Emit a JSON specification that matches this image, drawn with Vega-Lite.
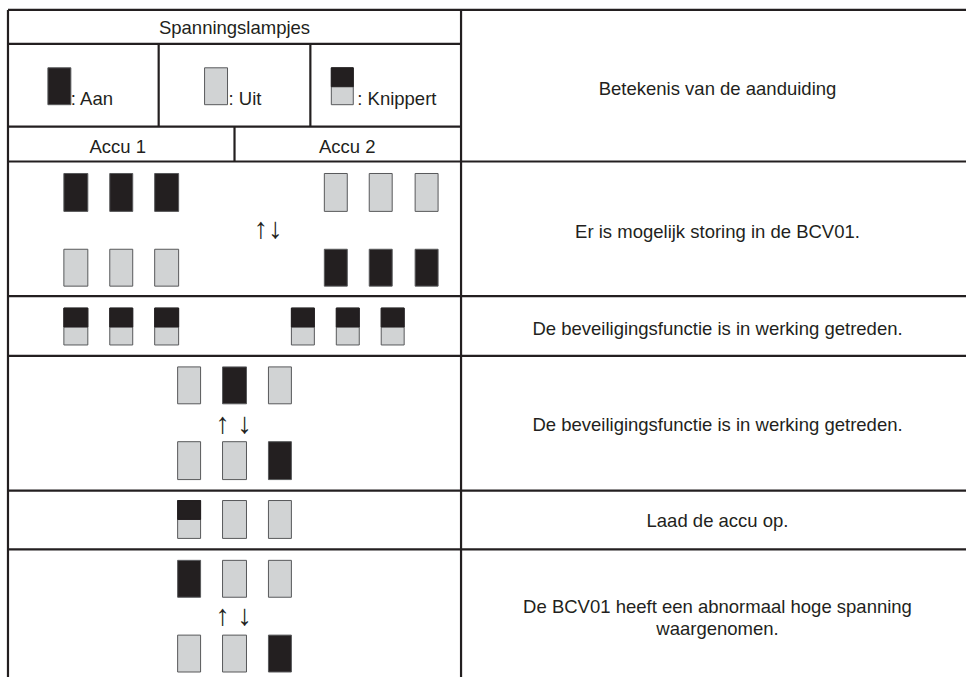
{
  "$schema": "https://vega.github.io/schema/vega-lite/v6.json",
  "width": 968,
  "height": 679,
  "autosize": {"type": "fit", "contains": "padding"},
  "padding": 0,
  "background": "white",
  "config": {"view": {"stroke": null}},
  "datasets": {
    "lamps": [
      {"x0": 48, "x1": 71, "y0": 68, "y1": 105, "ym": 86.5, "state": "on"},
      {"x0": 205, "x1": 228, "y0": 68, "y1": 105, "ym": 86.5, "state": "off"},
      {"x0": 332, "x1": 354, "y0": 68, "y1": 105, "ym": 87, "state": "blink"},
      {"x0": 64, "x1": 88, "y0": 174, "y1": 212, "ym": 193, "state": "on"},
      {"x0": 110, "x1": 133, "y0": 174, "y1": 212, "ym": 193, "state": "on"},
      {"x0": 155, "x1": 179, "y0": 174, "y1": 212, "ym": 193, "state": "on"},
      {"x0": 325, "x1": 348, "y0": 174, "y1": 212, "ym": 193, "state": "off"},
      {"x0": 370, "x1": 393, "y0": 174, "y1": 212, "ym": 193, "state": "off"},
      {"x0": 416, "x1": 439, "y0": 174, "y1": 212, "ym": 193, "state": "off"},
      {"x0": 64, "x1": 88, "y0": 250, "y1": 287, "ym": 268, "state": "off"},
      {"x0": 110, "x1": 133, "y0": 250, "y1": 287, "ym": 268, "state": "off"},
      {"x0": 155, "x1": 179, "y0": 250, "y1": 287, "ym": 268, "state": "off"},
      {"x0": 325, "x1": 348, "y0": 250, "y1": 287, "ym": 268, "state": "on"},
      {"x0": 370, "x1": 393, "y0": 250, "y1": 287, "ym": 268, "state": "on"},
      {"x0": 416, "x1": 439, "y0": 250, "y1": 287, "ym": 268, "state": "on"},
      {"x0": 64, "x1": 88, "y0": 309, "y1": 346, "ym": 328, "state": "blink"},
      {"x0": 110, "x1": 133, "y0": 309, "y1": 346, "ym": 328, "state": "blink"},
      {"x0": 155, "x1": 179, "y0": 309, "y1": 346, "ym": 328, "state": "blink"},
      {"x0": 292, "x1": 315, "y0": 309, "y1": 346, "ym": 328, "state": "blink"},
      {"x0": 337, "x1": 360, "y0": 309, "y1": 346, "ym": 328, "state": "blink"},
      {"x0": 382, "x1": 405, "y0": 309, "y1": 346, "ym": 328, "state": "blink"},
      {"x0": 178, "x1": 201, "y0": 368, "y1": 405, "ym": 386, "state": "off"},
      {"x0": 223, "x1": 247, "y0": 368, "y1": 405, "ym": 386, "state": "on"},
      {"x0": 269, "x1": 292, "y0": 368, "y1": 405, "ym": 386, "state": "off"},
      {"x0": 178, "x1": 201, "y0": 443, "y1": 481, "ym": 462, "state": "off"},
      {"x0": 223, "x1": 247, "y0": 443, "y1": 481, "ym": 462, "state": "off"},
      {"x0": 269, "x1": 292, "y0": 443, "y1": 481, "ym": 462, "state": "on"},
      {"x0": 178, "x1": 201, "y0": 502, "y1": 540, "ym": 521, "state": "blink"},
      {"x0": 223, "x1": 247, "y0": 502, "y1": 540, "ym": 521, "state": "off"},
      {"x0": 269, "x1": 292, "y0": 502, "y1": 540, "ym": 521, "state": "off"},
      {"x0": 178, "x1": 201, "y0": 562, "y1": 599, "ym": 580, "state": "on"},
      {"x0": 223, "x1": 247, "y0": 562, "y1": 599, "ym": 580, "state": "off"},
      {"x0": 269, "x1": 292, "y0": 562, "y1": 599, "ym": 580, "state": "off"},
      {"x0": 178, "x1": 201, "y0": 637, "y1": 674, "ym": 655, "state": "off"},
      {"x0": 223, "x1": 247, "y0": 637, "y1": 674, "ym": 655, "state": "off"},
      {"x0": 269, "x1": 292, "y0": 637, "y1": 674, "ym": 655, "state": "on"}
    ],
    "lines": [
      {"x0": 8, "x1": 968, "y0": 10, "y1": 10},
      {"x0": 8, "x1": 8, "y0": 10, "y1": 679},
      {"x0": 462, "x1": 462, "y0": 10, "y1": 679},
      {"x0": 8, "x1": 462, "y0": 44, "y1": 44},
      {"x0": 8, "x1": 462, "y0": 127, "y1": 127},
      {"x0": 8, "x1": 968, "y0": 162, "y1": 162},
      {"x0": 8, "x1": 968, "y0": 297, "y1": 297},
      {"x0": 8, "x1": 968, "y0": 357, "y1": 357},
      {"x0": 8, "x1": 968, "y0": 492, "y1": 492},
      {"x0": 8, "x1": 968, "y0": 551, "y1": 551},
      {"x0": 159, "x1": 159, "y0": 44, "y1": 127},
      {"x0": 311, "x1": 311, "y0": 44, "y1": 127},
      {"x0": 235, "x1": 235, "y0": 127, "y1": 162}
    ],
    "ctext": [
      {"x": 235, "y": 34, "t": "Spanningslampjes"},
      {"x": 118, "y": 153, "t": "Accu 1"},
      {"x": 348, "y": 153, "t": "Accu 2"},
      {"x": 719, "y": 95, "t": "Betekenis van de aanduiding"},
      {"x": 719, "y": 239, "t": "Er is mogelijk storing in de BCV01."},
      {"x": 719, "y": 336, "t": "De beveiligingsfunctie is in werking getreden."},
      {"x": 719, "y": 432, "t": "De beveiligingsfunctie is in werking getreden."},
      {"x": 719, "y": 529, "t": "Laad de accu op."},
      {"x": 719, "y": 615, "t": "De BCV01 heeft een abnormaal hoge spanning"},
      {"x": 719, "y": 637, "t": "waargenomen."}
    ],
    "ltext": [
      {"x": 71, "y": 105, "t": ": Aan"},
      {"x": 229, "y": 105, "t": ": Uit"},
      {"x": 358, "y": 105, "t": ": Knippert"}
    ],
    "arrows": [
      {"x": 268.5, "y": 230, "t": "↑↓"},
      {"x": 223, "y": 425, "t": "↑"},
      {"x": 245, "y": 425, "t": "↓"},
      {"x": 223, "y": 618, "t": "↑"},
      {"x": 245, "y": 618, "t": "↓"}
    ]
  },
  "layer": [
    {
      "data": {"name": "lamps"},
      "mark": {"type": "rect", "stroke": "#58595b", "strokeWidth": 1},
      "encoding": {
        "x": {"field": "x0", "type": "quantitative", "scale": {"domain": [0, 968], "nice": false, "zero": false}, "axis": null},
        "x2": {"field": "x1"},
        "y": {"field": "y0", "type": "quantitative", "scale": {"domain": [0, 679], "nice": false, "zero": false, "reverse": true}, "axis": null},
        "y2": {"field": "y1"},
        "fill": {"field": "state", "type": "nominal", "scale": {"domain": ["on", "off", "blink"], "range": ["#231f20", "#d1d3d4", "#d1d3d4"]}, "legend": null}
      }
    },
    {
      "data": {"name": "lamps"},
      "transform": [{"filter": "datum.state === 'blink'"}],
      "mark": {"type": "rect", "fill": "#231f20", "stroke": "#231f20", "strokeWidth": 1},
      "encoding": {
        "x": {"field": "x0", "type": "quantitative"},
        "x2": {"field": "x1"},
        "y": {"field": "y0", "type": "quantitative"},
        "y2": {"field": "ym"}
      }
    },
    {
      "data": {"name": "lines"},
      "mark": {"type": "rule", "color": "#231f20", "strokeWidth": 2.2},
      "encoding": {
        "x": {"field": "x0", "type": "quantitative"},
        "x2": {"field": "x1"},
        "y": {"field": "y0", "type": "quantitative"},
        "y2": {"field": "y1"}
      }
    },
    {
      "data": {"name": "ctext"},
      "mark": {"type": "text", "align": "center", "baseline": "alphabetic", "font": "Liberation Sans", "fontSize": 18.5, "color": "#231f20"},
      "encoding": {
        "x": {"field": "x", "type": "quantitative"},
        "y": {"field": "y", "type": "quantitative"},
        "text": {"field": "t"}
      }
    },
    {
      "data": {"name": "ltext"},
      "mark": {"type": "text", "align": "left", "baseline": "alphabetic", "font": "Liberation Sans", "fontSize": 18.5, "color": "#231f20"},
      "encoding": {
        "x": {"field": "x", "type": "quantitative"},
        "y": {"field": "y", "type": "quantitative"},
        "text": {"field": "t"}
      }
    },
    {
      "data": {"name": "arrows"},
      "mark": {"type": "text", "align": "center", "baseline": "middle", "font": "Liberation Sans", "fontSize": 29, "color": "#231f20"},
      "encoding": {
        "x": {"field": "x", "type": "quantitative"},
        "y": {"field": "y", "type": "quantitative"},
        "text": {"field": "t"}
      }
    }
  ]
}
